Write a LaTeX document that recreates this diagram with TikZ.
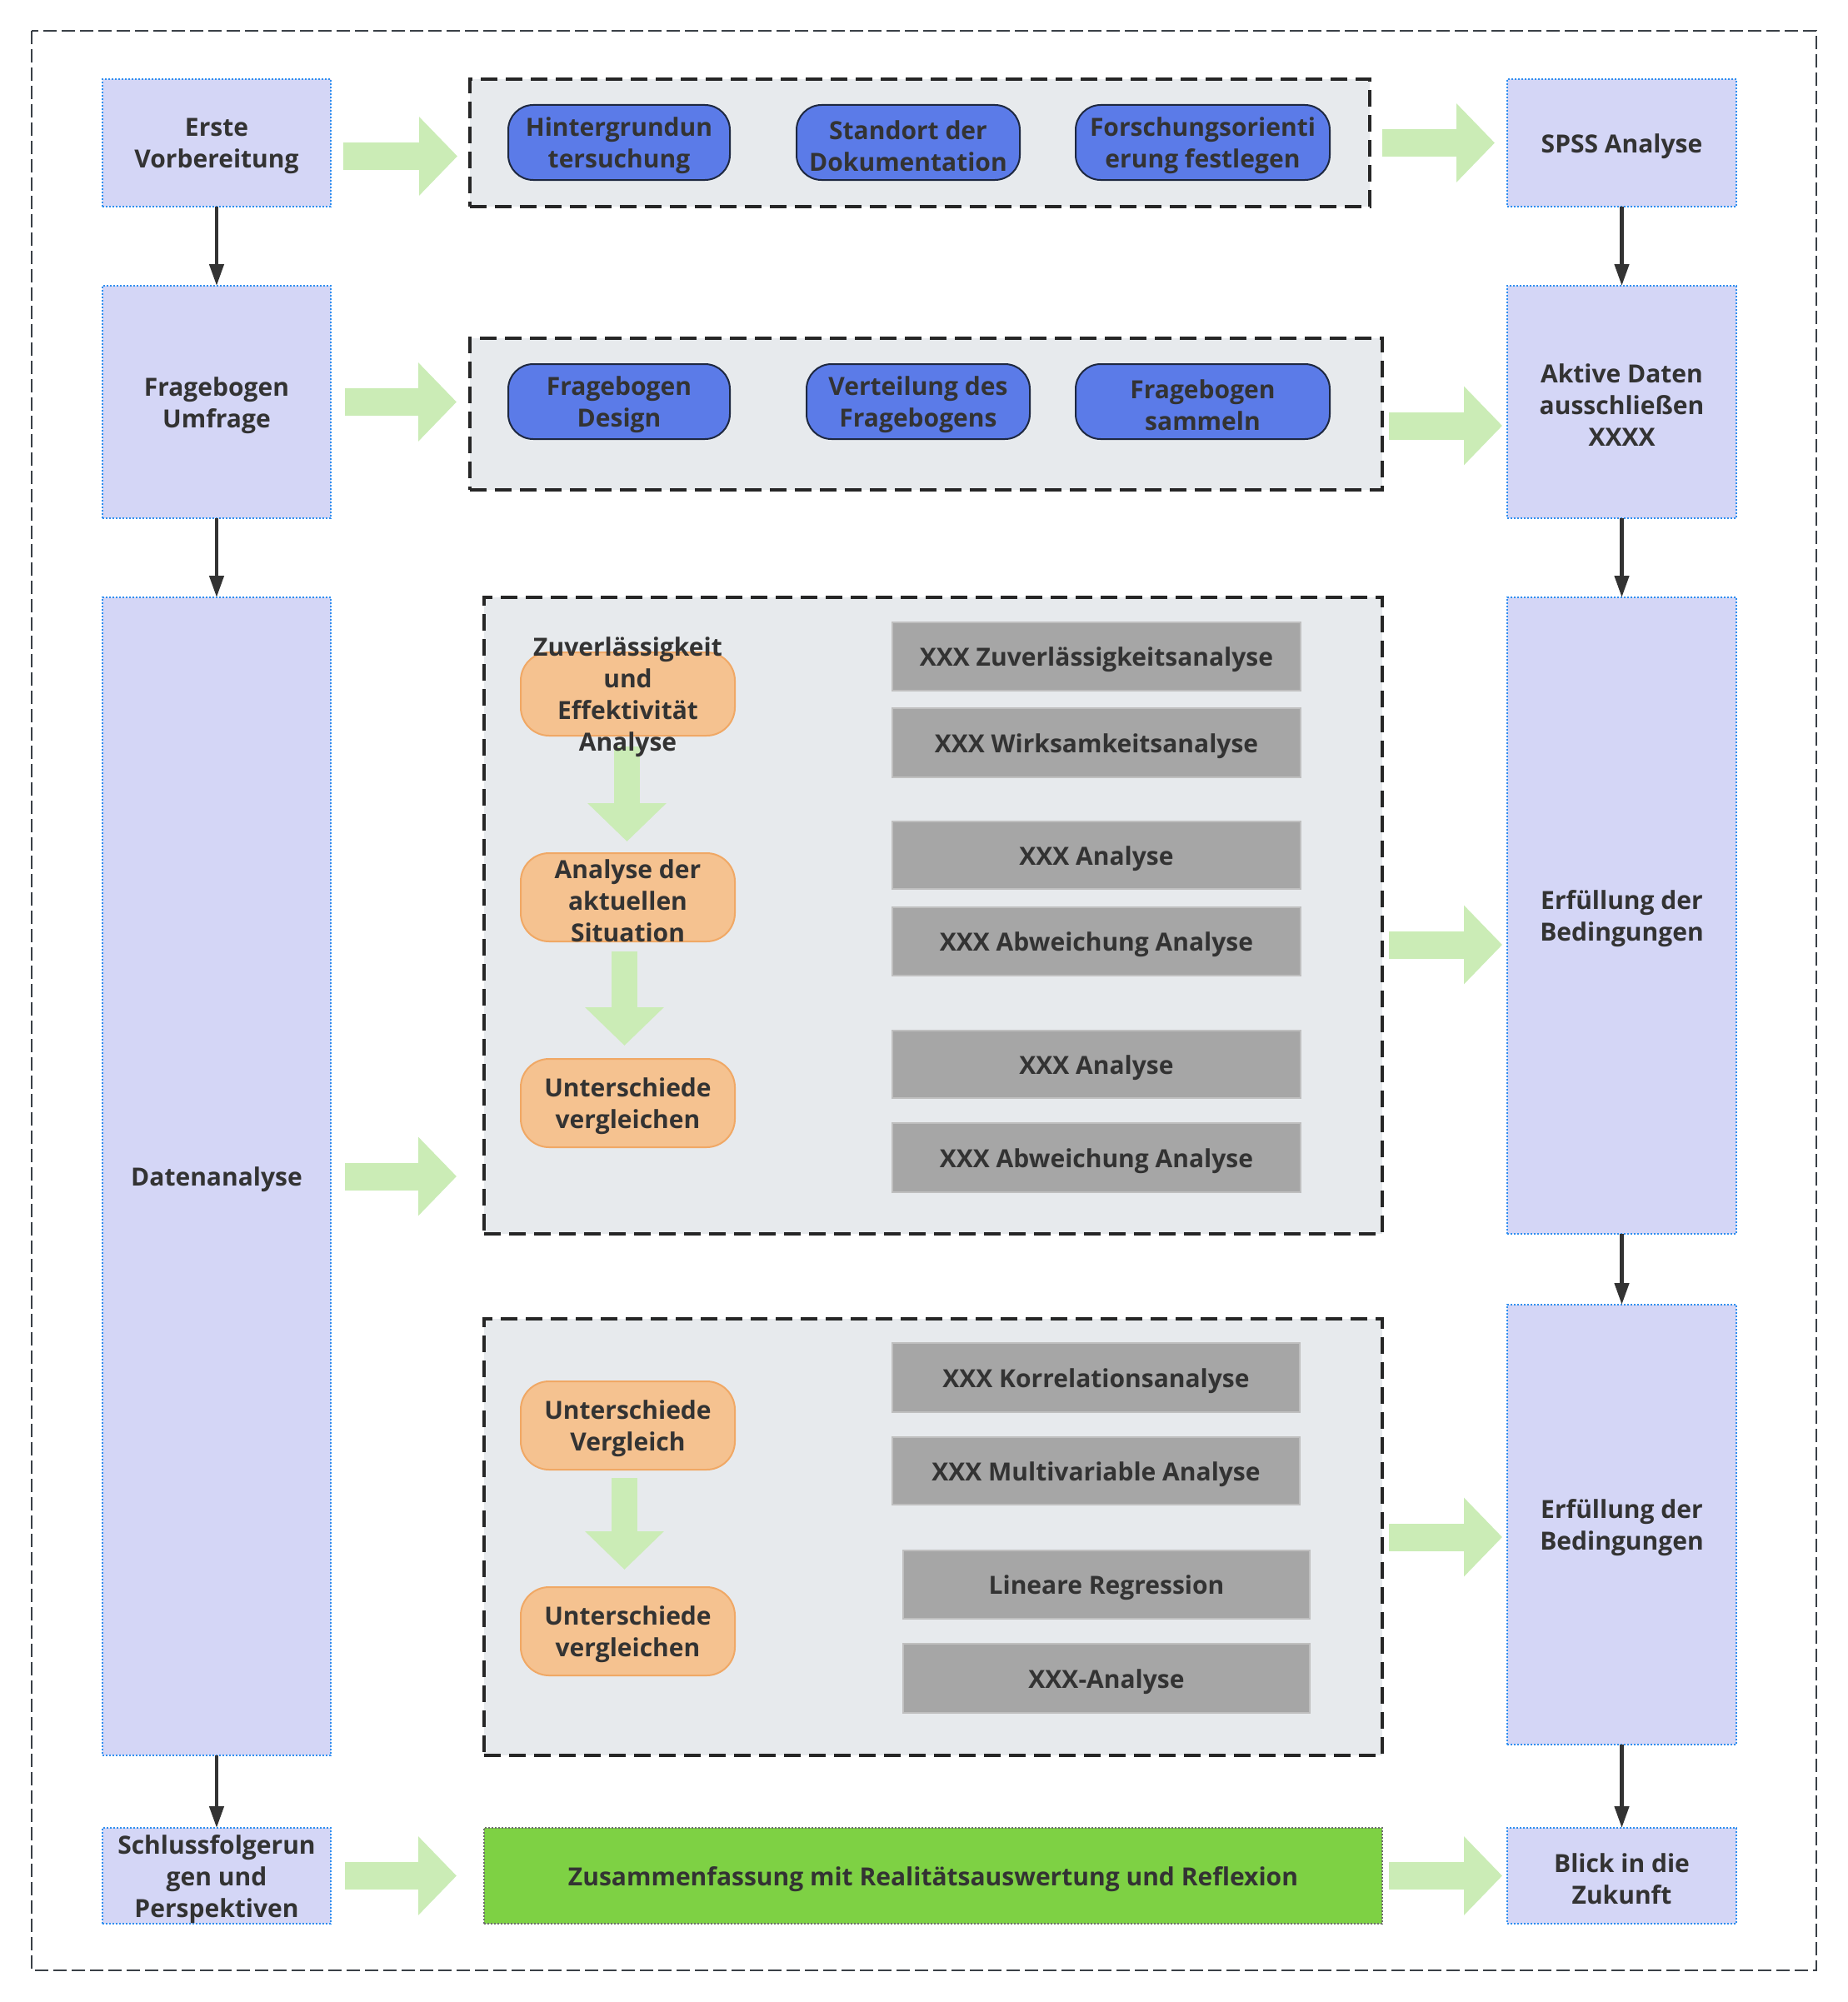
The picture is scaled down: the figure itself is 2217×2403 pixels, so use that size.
\documentclass[tikz,border=0pt]{standalone}
\usepackage{fontspec}
\setmainfont{Open Sans}
\usetikzlibrary{arrows.meta}
\definecolor{lav}{HTML}{D4D6F6}
\definecolor{lavborder}{HTML}{2F8FF0}
\definecolor{grp}{HTML}{E7EAED}
\definecolor{grpborder}{HTML}{262626}
\definecolor{pillblue}{HTML}{5B7BE8}
\definecolor{pillblueb}{HTML}{1E2840}
\definecolor{pillor}{HTML}{F5C290}
\definecolor{pillorb}{HTML}{F0A865}
\definecolor{graybox}{HTML}{A6A6A6}
\definecolor{grayboxb}{HTML}{BFBFBF}
\definecolor{greenbox}{HTML}{7ED144}
\definecolor{greenboxb}{HTML}{6E6E6E}
\definecolor{fatgreen}{HTML}{CBECB6}
\definecolor{txt}{HTML}{333333}
\definecolor{darkarrow}{HTML}{333333}
\definecolor{framecol}{HTML}{3A4047}
\newcommand\rn[7]{%
  \pgfmathsetmacro\cx{(#3+#5)/2}\pgfmathsetmacro\cy{(#4+#6)/2}%
  \pgfmathsetmacro\ww{(#5-#3)*0.5}\pgfmathsetmacro\hh{(#6-#4)*0.5}%
  \node[#1, minimum width=\ww pt, minimum height=\hh pt,
        label={[txtlbl]center:{#7}}] (#2) at (\cx,\cy) {};}
\tikzset{
  base/.style={inner sep=0pt, outer sep=0pt},
  txtlbl/.style={inner sep=0pt, outer sep=0pt, align=center, text=txt, yshift=-2pt,
     font=\bfseries\fontsize{15}{19}\selectfont},
  lavbox/.style={base, fill=lav, draw=lavborder, line width=1pt, dash pattern=on 1pt off 1pt},
  grpbox/.style={base, fill=grp, draw=grpborder, line width=1.8pt, dash pattern=on 10pt off 5pt},
  bluepill/.style={base, fill=pillblue, draw=pillblueb, line width=1pt, rounded corners=15pt},
  orpill/.style={base, fill=pillor, draw=pillorb, line width=1pt, rounded corners=17pt},
  graybx/.style={base, fill=graybox, draw=grayboxb, line width=1pt},
  greenbx/.style={base, fill=greenbox, draw=greenboxb, line width=0.6pt, dash pattern=on 1pt off 1pt},
  fat/.style={draw=fatgreen, line width=16.5pt, -{Triangle[width=46pt,length=23pt]}},
  fatv/.style={draw=fatgreen, line width=15.5pt, -{Triangle[width=46pt,length=23pt]}},
  darr/.style={draw=darkarrow, line width=2.2pt, -{Triangle[width=8.5pt,length=13pt]}},
}
\begin{document}
\begin{tikzpicture}[x=0.5pt,y=-0.5pt]
\useasboundingbox (0,0) rectangle (2217,2403);
\fill[white] (0,0) rectangle (2217,2403);
\draw[framecol, line width=0.9pt, dash pattern=on 8pt off 3pt] (38,37) rectangle (2180,2365);

% left column
\rn{lavbox}{erste}{123}{95}{397}{248}{Erste\\Vorbereitung}
\rn{lavbox}{frage}{123}{343}{397}{622}{Fragebogen\\Umfrage}
\rn{lavbox}{daten}{123}{717}{397}{2107}{Datenanalyse}
\rn{lavbox}{schluss}{123}{2194}{397}{2309}{Schlussfolgerun\\gen und\\Perspektiven}
% right column
\rn{lavbox}{spss}{1809}{95}{2084}{248}{SPSS Analyse}
\rn{lavbox}{aktiv}{1809}{343}{2084}{622}{Aktive Daten\\ausschließen\\XXXX}
\rn{lavbox}{erfa}{1809}{717}{2084}{1481}{Erfüllung der\\Bedingungen}
\rn{lavbox}{erfb}{1809}{1566}{2084}{2094}{Erfüllung der\\Bedingungen}
\rn{lavbox}{blick}{1809}{2194}{2084}{2309}{Blick in die\\Zukunft}

% groups
\rn{grpbox}{ga}{564}{95}{1644}{248}{}
\rn{grpbox}{gb}{564}{406}{1659}{588}{}
\rn{grpbox}{gc}{581}{717}{1659}{1481}{}
\rn{grpbox}{gd}{581}{1583}{1659}{2107}{}
\rn{greenbx}{sum}{581}{2194}{1659}{2309}{Zusammenfassung mit Realitätsauswertung und Reflexion}

% blue pills
\rn{bluepill}{ba}{610}{126}{876}{216}{Hintergrundun\\tersuchung}
\rn{bluepill}{bb}{956}{126}{1224}{216}{Standort der\\Dokumentation}
\rn{bluepill}{bc}{1291}{126}{1596}{216}{Forschungsorienti\\erung festlegen}
\rn{bluepill}{bd}{610}{437}{876}{527}{Fragebogen\\Design}
\rn{bluepill}{be}{968}{437}{1236}{527}{Verteilung des\\Fragebogens}
\rn{bluepill}{bf}{1291}{437}{1596}{527}{Fragebogen\\sammeln}

% orange pills
\rn{orpill}{oa}{625}{783}{882}{883}{}
\rn{orpill}{ob}{625}{1024}{882}{1130}{Analyse der\\aktuellen\\Situation}
\rn{orpill}{oc}{625}{1271}{882}{1377}{Unterschiede\\vergleichen}
\rn{orpill}{od}{625}{1658}{882}{1764}{Unterschiede\\Vergleich}
\rn{orpill}{oe}{625}{1905}{882}{2011}{Unterschiede\\vergleichen}

% gray boxes
\rn{graybx}{ra}{1071}{747}{1561}{829}{XXX Zuverlässigkeitsanalyse}
\rn{graybx}{rb}{1071}{850}{1561}{933}{XXX Wirksamkeitsanalyse}
\rn{graybx}{rc}{1071}{986}{1561}{1067}{XXX Analyse}
\rn{graybx}{rd}{1071}{1089}{1561}{1171}{XXX Abweichung Analyse}
\rn{graybx}{re}{1071}{1237}{1561}{1318}{XXX Analyse}
\rn{graybx}{rf}{1071}{1348}{1561}{1431}{XXX Abweichung Analyse}
\rn{graybx}{rg}{1071}{1612}{1560}{1695}{XXX Korrelationsanalyse}
\rn{graybx}{rh}{1071}{1725}{1560}{1806}{XXX Multivariable Analyse}
\rn{graybx}{ri}{1084}{1861}{1572}{1943}{Lineare Regression}
\rn{graybx}{rj}{1084}{1973}{1572}{2056}{XXX-Analyse}

% green block arrows
\draw[fat, shorten <=7.5pt, shorten >=7.5pt] ([yshift=-8pt]erste.east) -- ([yshift=-8pt]erste.east -| ga.west);
\draw[fat, shorten <=7.5pt, shorten >=7.5pt] (ga.east) -- (ga.east -| spss.west);
\draw[fat, shorten <=8.5pt, shorten >=8pt] (frage.east) -- (frage.east -| gb.west);
\draw[fat, shorten <=4pt, shorten >=3pt] ([yshift=-7pt]gb.east) -- ([yshift=-7pt]gb.east -| aktiv.west);
\draw[fat, shorten <=8.5pt, shorten >=16.5pt] (daten.east) -- (daten.east -| gc.west);
\draw[fat, shorten <=4pt, shorten >=3pt] ([yshift=-17.5pt]gc.east) -- ([yshift=-17.5pt]gc.east -| erfa.west);
\draw[fat, shorten <=4pt, shorten >=3pt] (gd.east) -- (gd.east -| erfb.west);
\draw[fat, shorten <=8.5pt, shorten >=16.5pt] (schluss.east) -- (schluss.east -| sum.west);
\draw[fat, shorten <=4pt, shorten >=3pt] (sum.east) -- (sum.east -| blick.west);
\draw[fatv, shorten <=6.5pt, shorten >=7pt] ([xshift=-0.5pt]oa.south) -- ([xshift=-0.5pt]ob.north);
\draw[fatv, shorten <=6pt, shorten >=8pt] ([xshift=-2pt]ob.south) -- ([xshift=-2pt]oc.north);
\draw[fatv, shorten <=5pt, shorten >=10.5pt] ([xshift=-2pt]od.south) -- ([xshift=-2pt]oe.north);
\node[txtlbl] (oatext) at (oa.center) {Zuverlässigkeit\\und\\Effektivität\\Analyse};

% dark arrows
\draw[darr] (erste) -- (frage);
\draw[darr] (frage) -- (daten);
\draw[darr] (daten) -- (schluss);
\draw[darr] (spss) -- (aktiv);
\draw[darr] (aktiv) -- (erfa);
\draw[darr] (erfa) -- (erfb);
\draw[darr] (erfb) -- (blick);
\end{tikzpicture}
\end{document}
